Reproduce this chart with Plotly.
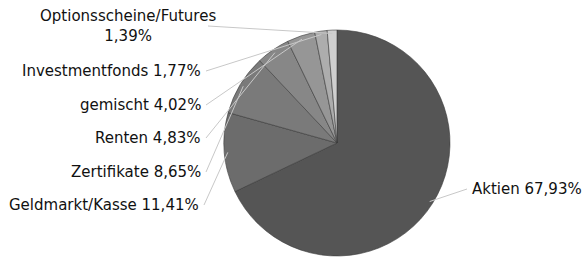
import math
import plotly.graph_objects as go

labels = ["Aktien", "Geldmarkt/Kasse", "Zertifikate", "Renten", "gemischt",
          "Investmentfonds", "Optionsscheine/Futures"]
values = [67.93, 11.41, 8.65, 4.83, 4.02, 1.77, 1.39]
colors = ["#555555", "#6c6c6c", "#7a7a7a", "#878787", "#969696", "#adadad", "#cfcfcf"]

W, H = 584, 258
cx, cy, r = 337, 143, 113

fig = go.Figure()
fig.add_trace(go.Pie(
    labels=labels, values=values, sort=False, direction="clockwise", rotation=0,
    marker=dict(colors=colors, line=dict(color="#3a3a3a", width=0.6)),
    textinfo="none", hoverinfo="label+percent", showlegend=False,
    domain=dict(x=[(cx - r) / W, (cx + r) / W], y=[1 - (cy + r) / H, 1 - (cy - r) / H]),
))

def fmt(v):
    return f"{v:.2f}".replace(".", ",") + "%"

# label anchor positions (pixels)
label_pos = {
    "Aktien": (470, 189, "left"),
    "Geldmarkt/Kasse": (201, 205, "right"),
    "Zertifikate": (203, 172, "right"),
    "Renten": (203, 138, "right"),
    "gemischt": (203, 105, "right"),
    "Investmentfonds": (203, 71, "right"),
    "Optionsscheine/Futures": (203, 26, "right"),
}

cum = 0.0
total = sum(values)
for lab, v in zip(labels, values):
    mid = (cum + v / 2) / total * 2 * math.pi
    cum += v
    px = cx + r * 0.97 * math.sin(mid)
    py = cy - r * 0.97 * math.cos(mid)
    lx, ly, side = label_pos[lab]
    if lab == "Optionsscheine/Futures":
        text = lab + "<br>" + fmt(v)
        tx = 128
        xanchor = "center"
        align = "center"
        sx = 208
    else:
        text = lab + " " + fmt(v)
        tx = lx
        xanchor = side
        align = side
        sx = lx + 3 if side == "right" else lx - 3
    fig.add_annotation(x=tx / W, y=1 - ly / H, xref="paper", yref="paper",
                       text=text, showarrow=False, xanchor=xanchor, yanchor="middle",
                       align=align,
                       font=dict(family="DejaVu Sans", size=15, color="#111111"))
    fig.add_shape(type="line", xref="paper", yref="paper",
                  x0=sx / W, y0=1 - ly / H, x1=px / W, y1=1 - py / H,
                  line=dict(color="#c8c8c8", width=1))

fig.update_layout(width=W, height=H, margin=dict(l=0, r=0, t=0, b=0),
                  paper_bgcolor="white", plot_bgcolor="white")
fig.write_html("out.html", config={"displayModeBar": False},
               post_script="document.body.style.margin='0';document.body.style.overflow='hidden';")
